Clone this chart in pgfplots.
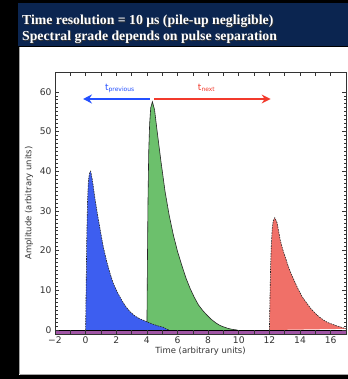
\documentclass[border=0pt]{standalone}
\usepackage{pgfplots}
\pgfplotsset{compat=1.18}
\usepackage{fontspec}
\setmainfont{DejaVu Sans}
\newfontfamily\titlefont{Liberation Serif}
\usetikzlibrary{arrows.meta}
\definecolor{navy}{HTML}{0B2550}
\definecolor{bluefill}{HTML}{3D5EF0}
\definecolor{greenfill}{HTML}{6CC06C}
\definecolor{redfill}{HTML}{F07068}
\definecolor{band}{HTML}{A055A5}
\definecolor{arrowblue}{HTML}{2450FF}
\definecolor{arrowred}{HTML}{F23A2C}
\definecolor{txtgray}{HTML}{333333}

\pgfplotstableread{
x y
0 0
0.03 10
0.07 22
0.12 32
0.18 37.5
0.25 39.5
0.33 40
0.45 37.5
0.61 33.1
0.78 29
0.94 25.5
1.15 21
1.38 17.2
1.6 14.2
1.81 11.7
2.1 9.3
2.36 7.5
2.6 6.0
2.9 4.6
3.2 3.6
3.5 2.9
3.75 2.5
3.99 2.1
4.3 1.6
4.6 1.2
4.85 0.9
5.08 0.7
5.25 0.3
5.45 0
}\bluepulse

\pgfplotstableread{
x y
4.0 0
4.03 15
4.07 32
4.12 45
4.18 52
4.25 56
4.36 57.5
4.5 55.5
4.65 50.7
4.9 43
5.19 34.8
5.45 29
5.73 23.9
6.0 19.8
6.28 16.3
6.55 13.1
6.82 10.5
7.1 8.2
7.37 6.3
7.65 4.9
7.91 3.8
8.2 2.7
8.5 1.8
8.75 1.2
9.0 0.8
9.3 0.4
9.6 0.15
9.9 0
}\greenpulse

\pgfplotstableread{
x y
12 0
12.03 7
12.07 15
12.12 21
12.18 25.5
12.25 27.5
12.35 28.3
12.5 27
12.71 22.6
12.87 20.3
13.03 18.4
13.2 16.4
13.36 14.7
13.6 12.6
13.9 10.1
14.15 8.3
14.45 6.7
14.7 5.4
15.0 4.2
15.25 3.3
15.54 2.5
15.8 1.9
16.08 1.5
16.35 1.1
16.63 0.8
16.85 0.5
17.0 0.3
}\redpulse

\begin{document}
\begin{tikzpicture}
\useasboundingbox (0bp,0bp) rectangle (348bp,379bp);
\fill[black] (0bp,0bp) rectangle (348bp,379bp);
\fill[navy] (18bp,333bp) rectangle (348bp,376bp);
\fill[white] (19bp,4bp) rectangle (348bp,332bp);
\draw[black!35, line width=1.2bp] (19.6bp,4.6bp) -- (19.6bp,332bp);
\draw[black!35, line width=1.2bp] (19.6bp,4.6bp) -- (348bp,4.6bp);
\foreach \yy/\tt in {354.5/{Time resolution = 10 μs (pile-up negligible)},338.5/{Spectral grade depends on pulse separation}}{
  \node[anchor=base west, text=black!80, inner sep=0, font=\titlefont\bfseries\fontsize{13.8}{16}\selectfont] at (22.8bp,\yy bp-0.8bp) {\tt};
  \node[anchor=base west, text=white, inner sep=0, font=\titlefont\bfseries\fontsize{13.8}{16}\selectfont] at (22bp,\yy bp) {\tt};
}
\begin{axis}[
  at={(55bp,45bp)}, anchor=south west,
  scale only axis, width=291bp, height=262bp,
  xmin=-2, xmax=17, ymin=-1, ymax=65,
  xtick={-2,...,17},
  xticklabels={−2,,0,,2,,4,,6,,8,,10,,12,,14,,16,},
  ytick={0,10,...,60}, minor y tick num=9,
  tick align=inside,
  major tick length=4bp, minor tick length=2.5bp,
  every tick/.style={black!80, line width=0.6bp},
  axis line style={black!80, line width=0.7bp},
  /pgf/number format/assume math mode=true,
  tick label style={font=\fontsize{9.2}{10}\selectfont, text=txtgray},
  xticklabel style={yshift=1bp},
  label style={font=\fontsize{8.5}{10}\selectfont, text=txtgray},
  xlabel={Time (arbitrary units)},
  ylabel={Amplitude (arbitrary units)},
  xlabel style={at={(axis description cs:0.5,-0.066)}, anchor=center},
  ylabel style={at={(axis description cs:-0.089,0.5)}, anchor=center},
  axis on top,
]
\addplot[fill=band, draw=none] coordinates {(-2,-1) (17,-1) (17,0) (-2,0)};
\addplot[fill=greenfill, draw=black!85, line width=0.6bp] table[x=x,y=y] {\greenpulse};
\addplot[fill=bluefill, draw=black!85, line width=0.6bp, dash pattern=on 1.6bp off 1bp] table[x=x,y=y] {\bluepulse};
\addplot[fill=redfill, draw=black!85, line width=0.6bp, dash pattern=on 1.6bp off 1bp] table[x=x,y=y] {\redpulse};
\addplot[black, line width=0.8bp] coordinates {(-2,0) (17,0)};
\addplot[arrowblue, line width=1.8bp, -{Stealth[length=9bp,width=9bp,inset=3bp]}] coordinates {(4.2,58.2) (-0.17,58.2)};
\addplot[arrowred, line width=1.8bp, -{Stealth[length=9bp,width=9bp,inset=3bp]}] coordinates {(4.48,58.2) (12.08,58.2)};
\node[text=arrowblue, font=\fontsize{9}{10}\selectfont, inner sep=0] at (axis cs:2.24,60.9) {t\textsubscript{previous}};
\node[text=arrowred, font=\fontsize{9}{10}\selectfont, inner sep=0] at (axis cs:7.9,60.9) {t\textsubscript{next}};
\end{axis}
\end{tikzpicture}
\end{document}
